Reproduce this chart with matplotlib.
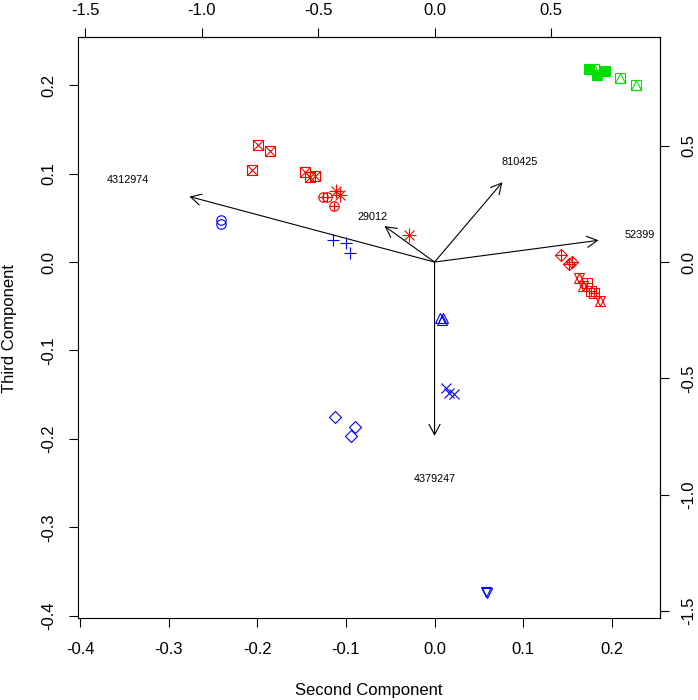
import matplotlib
matplotlib.use("Agg")
import matplotlib.pyplot as plt

plt.rcParams['font.family'] = ['Liberation Sans', 'DejaVu Sans']

# ---- observation scores (Second / Third component) ----
pt_x = [0.1747, 0.1838, 0.1928,
        0.1804, 0.2097, 0.2277,
        -0.1995, -0.1860, -0.2063, -0.1466, -0.1409, -0.1353,
        -0.1263, -0.1218, -0.1139,
        -0.1116, -0.1071, -0.0290,
        0.1432, 0.1522, 0.1556,
        0.1635, 0.1680, 0.1871,
        0.1725, 0.1770, 0.1804,
        -0.2416, -0.2416,
        -0.1147, -0.1003, -0.0958,
        0.0064, 0.0094, 0.0080,
        0.0132, 0.0161, 0.0214,
        -0.1127, -0.0902, -0.0939,
        0.0583, 0.0595]
pt_y = [0.2186, 0.2118, 0.2163,
        0.2186, 0.2084, 0.2004,
        0.1325, 0.1257, 0.1042, 0.1019, 0.0963, 0.0974,
        0.0736, 0.0736, 0.0634,
        0.0804, 0.0759, 0.0306,
        0.0079, -0.0023, 0.0000,
        -0.0181, -0.0272, -0.0442,
        -0.0238, -0.0328, -0.0351,
        0.0479, 0.0430,
        0.0253, 0.0212, 0.0102,
        -0.0638, -0.0638, -0.0650,
        -0.1419, -0.1476, -0.1487,
        -0.1747, -0.1861, -0.1967,
        -0.3734, -0.3745]
pt_pch = [15, 15, 15,
          14, 14, 14,
          7, 7, 7, 7, 7, 7,
          10, 10, 10,
          8, 8, 8,
          9, 9, 9,
          11, 11, 11,
          12, 12, 12,
          1, 1,
          3, 3, 3,
          2, 2, 2,
          4, 4, 4,
          5, 5, 5,
          6, 6]
pt_col = (['green'] * 6 + ['red'] * 21 + ['blue'] * 16)

# ---- variable loadings (label positions, secondary axis units) ----
var_names = ['4312974', '29012', '810425', '52399', '4379247']
var_x = [-1.315, -0.268, 0.364, 0.880, 0.000]
var_y = [0.352, 0.193, 0.429, 0.117, -0.934]

colors = {'green': '#00E000', 'red': '#FF0000', 'blue': '#0000FF'}

# pch -> list of (marker, size, filled)
pch_map = {
    1: [('o', 6.8, False)],
    2: [('^', 7.8, False)],
    3: [('+', 9.0, False)],
    4: [('x', 6.8, False)],
    5: [('D', 6.0, False)],
    6: [('v', 7.8, False)],
    7: [('s', 6.8, False), ('x', 6.8, False)],
    8: [('+', 9.5, False), ('x', 6.8, False)],
    9: [('D', 6.0, False), ('+', 8.4, False)],
    10: [('o', 6.8, False), ('+', 6.8, False)],
    11: [('^', 7.8, False), ('v', 7.8, False)],
    12: [('s', 6.8, False), ('+', 6.8, False)],
    14: [('s', 6.8, False), ('^', 6.8, False)],
    15: [('s', 6.8, True)],
}

ratio = 3.802
lim = (-0.4025, 0.2545)

fig = plt.figure(figsize=(6.98, 7.0), dpi=100)
ax = fig.add_axes([78 / 698, 1 - 618 / 700, 582 / 698, 581 / 700])
ax.set_xlim(lim)
ax.set_ylim(lim)

for x, y, p, c in zip(pt_x, pt_y, pt_pch, pt_col):
    for m, s, filled in pch_map[p]:
        col = colors[c]
        ax.plot([x], [y], linestyle='none', marker=m, markersize=s,
                markeredgecolor=col, markerfacecolor=col if filled else 'none',
                markeredgewidth=0.8)

for name, vx, vy in zip(var_names, var_x, var_y):
    ax.annotate('', xy=(0.8 * vx / ratio, 0.8 * vy / ratio), xytext=(0, 0),
                arrowprops=dict(arrowstyle='->,head_length=0.75,head_width=0.4',
                                color='black', lw=0.8, shrinkA=0, shrinkB=0))
    ax.text(vx / ratio, vy / ratio, name, fontsize=7.8, ha='center', va='center')

tick_kw = dict(length=6.5, width=0.8, labelsize=12, direction='out')
ax.set_xticks([-0.4, -0.3, -0.2, -0.1, 0.0, 0.1, 0.2])
ax.set_yticks([-0.4, -0.3, -0.2, -0.1, 0.0, 0.1, 0.2])
ax.set_xticklabels(['-0.4', '-0.3', '-0.2', '-0.1', '0.0', '0.1', '0.2'])
ax.set_yticklabels(['-0.4', '-0.3', '-0.2', '-0.1', '0.0', '0.1', '0.2'],
                   rotation=90, va='center')
ax.tick_params(axis='x', pad=11, **tick_kw)
ax.tick_params(axis='y', pad=9, **tick_kw)
for sp in ax.spines.values():
    sp.set_linewidth(0.8)

sec_ticks = [-1.5, -1.0, -0.5, 0.0, 0.5]
sec_labels = ['-1.5', '-1.0', '-0.5', '0.0', '0.5']
topx = ax.secondary_xaxis('top', functions=(lambda v: v * ratio, lambda v: v / ratio))
topx.set_xticks(sec_ticks)
topx.set_xticklabels(sec_labels)
topx.tick_params(pad=7.5, **tick_kw)
righty = ax.secondary_yaxis('right', functions=(lambda v: v * ratio, lambda v: v / ratio))
righty.set_yticks(sec_ticks)
righty.set_yticklabels(sec_labels, rotation=90, va='center')
righty.tick_params(pad=9, **tick_kw)
topx.spines['top'].set_linewidth(0.8)
righty.spines['right'].set_linewidth(0.8)

fig.text(369 / 698, 1 - 690 / 700, 'Second Component', fontsize=12,
         ha='center', va='center')
fig.text(10 / 698, 1 - 328 / 700, 'Third Component', fontsize=12,
         ha='center', va='center', rotation=90)

fig.savefig('out.png', dpi=100)
